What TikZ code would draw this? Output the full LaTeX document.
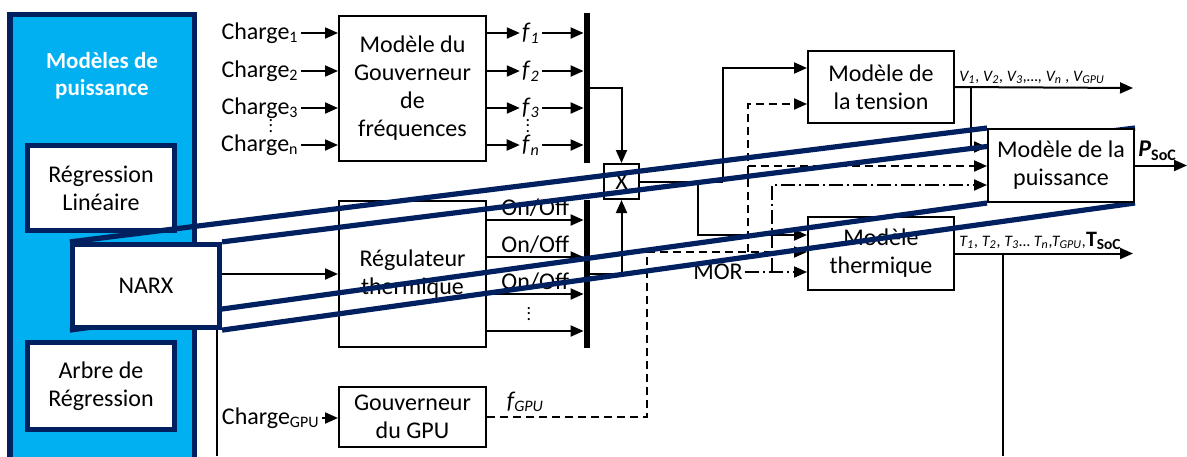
\documentclass[tikz,border=0pt]{standalone}
\usepackage{fontspec}
\setmainfont{Carlito}
\usepackage{tikz}
\usetikzlibrary{arrows.meta,positioning,calc}

\definecolor{navy}{HTML}{002060}
\definecolor{panelblue}{HTML}{00B0F0}

\pgfdeclarelayer{bg}
\pgfdeclarelayer{zoom}
\pgfdeclarelayer{fg}
\pgfsetlayers{bg,main,zoom,fg}

\newcommand{\idx}[1]{\textsubscript{#1}}
\newcommand{\vdotsmall}{\vbox{\baselineskip=2.6pt \lineskiplimit=-10pt \hbox{.}\hbox{.}\hbox{.}}}

\tikzstyle{block} = [rectangle, draw, line width=1pt, fill=white, align=center,
    minimum width=73.5pt, inner sep=1pt, font=\fontsize{12}{14}\selectfont]
\tikzstyle{mbox} = [rectangle, draw=navy, line width=2.6pt, fill=white, align=center,
    minimum width=73.5pt, inner sep=1pt, font=\fontsize{12}{14}\selectfont]
\tikzstyle{bus} = [rectangle, fill=black, minimum width=3pt, inner sep=0pt]
\tikzstyle{wire} = [line width=1pt]
\tikzstyle{arr} = [line width=1pt, -{Triangle[length=6.5pt,width=5.5pt]}]
\tikzstyle{dashedline} = [dash pattern=on 4pt off 2.5pt]
\tikzstyle{dashdotline} = [dash pattern=on 7pt off 2pt on 1pt off 2pt]
\tikzstyle{zoomline} = [draw=navy, line width=2.6pt]
\tikzstyle{lbl} = [inner sep=1pt, font=\fontsize{12}{14}\selectfont]
\tikzstyle{dotslbl} = [inner sep=0pt, font=\fontsize{9}{9}\selectfont]
\tikzstyle{smalllbl} = [inner sep=1pt, font=\fontsize{8}{9}\selectfont\itshape]

\begin{document}
\begin{tikzpicture}[x=0.5pt, y=-0.5pt]
    \useasboundingbox (0,0) rectangle (1187,456);
    \clip (0,0) rectangle (1187,456);

    % power model panel
    \begin{pgfonlayer}{bg}
        \filldraw[draw=navy, fill=panelblue, line width=2.8pt] (10,470) |- (194.5,14.5) -- (194.5,470);
    \end{pgfonlayer}
    \node[lbl, text=white, align=center, font=\fontsize{11.5}{13.5}\selectfont\bfseries] (ptitle) at (102,76) {Modèles de\\puissance};
    \node[mbox, minimum height=42.5pt] (reglin) at (101,188) {Régression\\Linéaire};
    \node[mbox, minimum height=43.5pt] (arbre) at (101,386) {Arbre de\\Régression};

    % boxes drawn over the zoom lines
    \begin{pgfonlayer}{fg}
        \node[mbox, minimum height=41.5pt] (narx) at (146,286) {NARX};
        \node[block, minimum width=73pt, minimum height=36.5pt] (puis) at (1061,165.5) {Modèle de la\\puissance};
    \end{pgfonlayer}

    \node[block, minimum height=72.5pt] (gov) at (412.5,88.5) {Modèle du\\Gouverneur\\de\\fréquences};
    \node[block, minimum height=73pt] (reg) at (412.5,274) {Régulateur\\thermique};
    \node[block, minimum height=30pt] (gpu) at (412.5,417) {Gouverneur\\du GPU};
    \node[block, minimum width=17.5pt, minimum height=17.5pt] (xbox) at (621.5,181.5) {X};
    \node[block, minimum width=73pt, minimum height=36pt] (tension) at (881,87) {Modèle de\\la tension};
    \node[block, minimum width=73pt, minimum height=36.5pt] (therm) at (881,253.5) {Modèle\\thermique};

    \node[bus, minimum height=75pt] (busf) at (587,88) {};
    \node[bus, minimum height=74pt] (busr) at (587,274) {};

    % loads
    \node[lbl, anchor=east] (ch1) at (301,33) {Charge\idx{1}};
    \node[lbl, anchor=east] (ch2) at (301,71) {Charge\idx{2}};
    \node[lbl, anchor=east] (ch3) at (301,108) {Charge\idx{3}};
    \node[lbl, anchor=east] (chn) at (301,145) {Charge\idx{n}};
    \node[dotslbl] (chdots) at (271,126) {\vdotsmall};
    \draw[arr] (ch1.east) -- (gov.west |- ch1.east);
    \draw[arr] (ch2.east) -- (gov.west |- ch2.east);
    \draw[arr] (ch3.east) -- (gov.west |- ch3.east);
    \draw[arr] (chn.east) -- (gov.west |- chn.east);

    % frequencies
    \node[lbl] (f1) at (531,33) {\textit{f}\idx{\textit{1}}};
    \node[lbl] (f2) at (531,71) {\textit{f}\idx{\textit{2}}};
    \node[lbl] (f3) at (531,108) {\textit{f}\idx{\textit{3}}};
    \node[lbl] (fn) at (531,145) {\textit{f}\idx{\textit{n}}};
    \node[dotslbl] (fdots) at (528,126) {\vdotsmall};
    \draw[arr] (gov.east |- f1) -- (f1.west);
    \draw[arr] (gov.east |- f2) -- (f2.west);
    \draw[arr] (gov.east |- f3) -- (f3.west);
    \draw[arr] (gov.east |- fn) -- (fn.west);
    \draw[arr] (f1.east) -- (busf.west |- f1.east);
    \draw[arr] (f2.east) -- (busf.west |- f2.east);
    \draw[arr] (f3.east) -- (busf.west |- f3.east);
    \draw[arr] (fn.east) -- (busf.west |- fn.east);

    % thermal regulator
    \draw[arr] (narx.east |- 0,274) -- (reg.west |- 0,274);
    \draw[arr] (reg.east |- 0,220) -- node[lbl, above] (oo1) {On/Off} (busr.west |- 0,220);
    \draw[arr] (reg.east |- 0,257) -- node[lbl, above] (oo2) {On/Off} (busr.west |- 0,257);
    \draw[arr] (reg.east |- 0,294) -- node[lbl, above] (oo3) {On/Off} (busr.west |- 0,294);
    \draw[arr] (reg.east |- 0,331) -- (busr.west |- 0,331);
    \node[dotslbl] (oodots) at (529,314) {\vdotsmall};

    % product
    \draw[arr] (busf.east) -| (xbox.north);
    \draw[arr] (busr.east) -| (xbox.south);
    \coordinate (xj1) at (698,181.5);
    \coordinate (xj2) at (723,181.5);
    \draw[wire] (xbox.east) -- (xj2);
    \draw[arr] (xj2) |- (tension.west |- 0,68);
    \draw[arr] (xj1) |- (therm.west |- 0,235);

    % GPU
    \node[lbl, anchor=east] (chgpu) at (322,418) {Charge\idx{GPU}};
    \draw[arr] (chgpu.east) -- (gpu.west |- chgpu.east);
    \coordinate (gj) at (647,252);
    \coordinate (tj) at (748,252);
    \draw[wire, dashedline] (gpu.east) -| node[lbl, pos=0.12, above=1pt] (fgpu) {\textit{f\idx{GPU}}} (gj);
    \draw[arr, dashedline] (gj) -- (therm.west |- gj);
    \draw[arr, dashedline] (tj) |- (tension.west |- 0,104);
    \draw[arr, dashedline] (tj |- 0,166) -- (puis.west |- 0,166);

    % MOR
    \node[lbl] (mor) at (718,272) {MOR};
    \coordinate (mj) at (772,272);
    \draw[arr, dashdotline] (mor.east) -- (therm.west |- mor.east);
    \draw[arr, dashdotline] (mj) |- (puis.west |- 0,185);

    % outputs
    \coordinate (vout) at (1133,88);
    \coordinate (tout) at (1133,253.5);
    \coordinate (pout) at (1187,165.5);
    \coordinate (nd) at (217,456);
    \coordinate (td) at (1003,456);
    \draw[arr] (tension.east) -- (vout);
    \draw[arr] (tension.east -| 971,0) |- (puis.west |- 0,147);
    \node[smalllbl, anchor=south west] (vlbl) at (957,86) {V\idx{1}, V\idx{2}, V\idx{3},…, V\idx{n} , V\idx{GPU}};
    \draw[arr] (therm.east) -- (tout);
    \draw[wire] (therm.east -| td) -- (td);
    \node[smalllbl, anchor=south west] (tlbl) at (957,252) {T\idx{1}, T\idx{2}, T\idx{3}… T\idx{n},T\idx{GPU},{\fontsize{11}{12}\selectfont\upshape\bfseries T\idx{SoC}}};
    \draw[arr] (puis.east) -- (pout);
    \node[lbl, anchor=south west] (plbl) at (1136,163) {{\bfseries\itshape P}\idx{\bfseries SoC}};
    \draw[wire] (narx.south east -| nd) -- (nd);

    % zoom lines from NARX to the power model
    \begin{pgfonlayer}{zoom}
        \draw[zoomline] (narx.north west) -- (puis.north west);
        \draw[zoomline] (narx.north east) -- (puis.north east);
        \draw[zoomline] (narx.south west) -- (puis.south west);
        \draw[zoomline] (narx.south east) -- (puis.south east);
    \end{pgfonlayer}
\end{tikzpicture}
\end{document}
